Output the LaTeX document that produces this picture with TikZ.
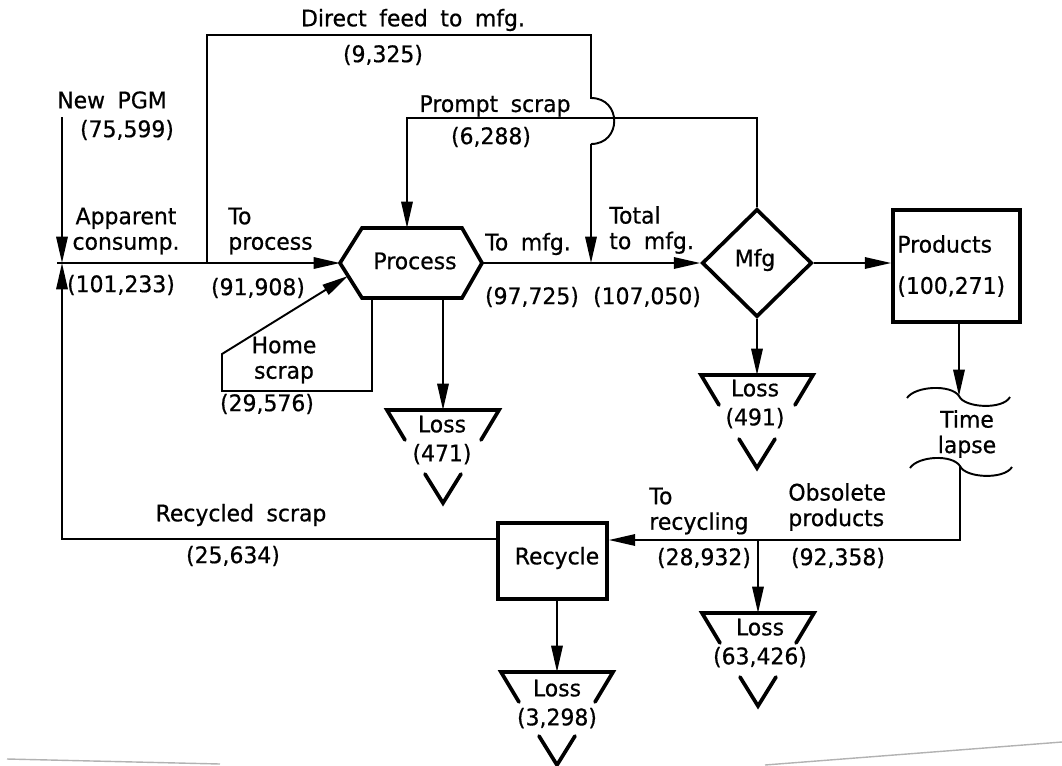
\documentclass[tikz,border=0pt]{standalone}
\usepackage{fontspec}
\setmainfont[FakeStretch=0.96,WordSpace=1.8,FakeBold=0.6]{DejaVu Sans}
\usetikzlibrary{arrows.meta,shapes.geometric}
\begin{document}
\begin{tikzpicture}[x=0.02cm,y=-0.02cm,
  conn/.style={line width=1.1pt},
  arr/.style={conn,-{Triangle[length=15pt,width=6.5pt]}},
  shp/.style={line width=2.1pt},
  lbl/.style={font=\fontsize{13}{14.5}\selectfont,inner sep=0pt},
  losstri/.pic={
    \draw[shp,line cap=round,line join=miter] (-38,30) -- (-56,0) -- (56,0) -- (38,30);
    \draw[shp,line cap=round] (-18,64) -- (0,93) -- (18,64);
  }]
\useasboundingbox (0,0) rectangle (1062,765);

% ---- shapes ----
\coordinate (pW) at (340,263);
\coordinate (pE) at (482,263);
\draw[shp,line join=miter] (pW) -- (362,228) -- (462,228) -- (pE) -- (462,298) -- (362,298) -- cycle;
\node[lbl] (proc) at (415,261) {Process};

\node[shp,draw,diamond,minimum width=2.2cm,minimum height=2.16cm,inner sep=0pt,lbl] (mfg) at (757,263) {};
\node[lbl] (mfgtxt) at (755,260) {Mfg};

\node[shp,draw,rectangle,minimum width=2.54cm,minimum height=2.24cm] (prod) at (956.5,266) {};
\node[lbl,anchor=west,align=left] (prodtxt) at (897,266) {Products\\[9pt](100,271)};

\node[shp,draw,rectangle,minimum width=2.18cm,minimum height=1.52cm] (recyc) at (552.5,561) {};
\node[lbl] (recyctxt) at (557,558) {Recycle};

% ---- coordinates ----
\coordinate (junc) at (62,263);
\coordinate (newtop) at (62,117);
\coordinate (mainstart) at (57,263);
\coordinate (dfb) at (207,263);
\coordinate (dfe) at (591,263);
\coordinate (tl1) at (959,396);
\coordinate (tl2) at (960,466);
\coordinate (obsR) at (960,540);
\coordinate (obsB) at (758,540);
\coordinate (rs) at (62,539);
\coordinate (hs0) at (372,298);
\coordinate (hsT) at (348,276);
\coordinate (plstart) at (443,298);
\coordinate (pl) at (443,410);
\coordinate (ml) at (757,375);
\coordinate (ol) at (758,613);
\coordinate (rl) at (557,672);

% ---- connectors ----
\draw[arr] (newtop) -- (junc);
\draw[arr] (mainstart) -- (pW);
\draw[conn] (dfb) -- (207,35) -- (591,35) -- (591,98) .. controls (622,98) and (622,144) .. (591,144) coordinate (jb);
\draw[arr] (jb) -- (dfe);
\draw[arr] (mfg.north) -- (757,118) -- (407,118) -- (407,228);
\draw[arr] (pE) -- (mfg.west);
\draw[arr] (mfg.east) -- (mfg.east -| prod.west);
\draw[arr] (prod.south -| tl1) -- (tl1);
\draw[conn] (907,398) .. controls (915,386) and (951,384) .. (959,396) .. controls (964,408) and (1003,410) .. (1010,397);
\draw[conn] (910,468) .. controls (918,456) and (952,454) .. (tl2) .. controls (965,478) and (1004,480) .. (1012,467);
\draw[arr] (tl2) -- (obsR) -- (recyc.east |- obsR);
\draw[arr] (obsB) -- (ol);
\draw[arr] (recyc.south -| rl) -- (rl);
\draw[arr] (recyc.west |- rs) -- (rs) -- (junc);
\draw[arr] (hs0) -- (372,391) -- (222,391) -- (222,354) -- (hsT);
\draw[arr] (plstart) -- (pl);
\draw[arr] (mfg.south) -- (ml);

% ---- loss symbols ----
\pic at (pl) {losstri};
\pic at (ml) {losstri};
\pic at (ol) {losstri};
\pic at (rl) {losstri};

% ---- labels ----
\node[lbl] (t1) at (413,20) {Direct feed to mfg.};
\node[lbl] (t2) at (383,55) {(9,325)};
\node[lbl] (t3) at (112,100) {New PGM};
\node[lbl] (t4) at (127,130) {(75,599)};
\node[lbl,align=center] (t5) at (126,231) {Apparent\\consump.};
\node[lbl] (t6) at (121,285) {(101,233)};
\node[lbl,anchor=west,align=left] (t7) at (228,231) {To\\process};
\node[lbl] (t8) at (258,288) {(91,908)};
\node[lbl] (t9) at (495,106) {Prompt scrap};
\node[lbl] (t10) at (491,137) {(6,288)};
\node[lbl] (t12) at (528,244) {To mfg.};
\node[lbl,anchor=west,align=left] (t13) at (609,230) {Total\\to mfg.};
\node[lbl] (t14) at (532,297) {(97,725)};
\node[lbl] (t15) at (647,297) {(107,050)};
\node[lbl,align=center] (t18) at (284,360) {Home\\scrap};
\node[lbl] (t19) at (267,404) {(29,576)};
\node[lbl,align=center] (t20) at (442,440) {Loss\\[2pt](471)};
\node[lbl,align=center] (t21) at (755,404) {Loss\\[2pt](491)};
\node[lbl,align=center] (t22) at (967,434) {Time\\lapse};
\node[lbl,anchor=west,align=left] (t23) at (788,507) {Obsolete\\products};
\node[lbl,anchor=west,align=left] (t24) at (649,511) {To\\recycling};
\node[lbl] (t25) at (704,558) {(28,932)};
\node[lbl] (t26) at (838,558) {(92,358)};
\node[lbl,align=center] (t27) at (760,643) {Loss\\[2pt](63,426)};
\node[lbl,align=center] (t29) at (557,704) {Loss\\[2pt](3,298)};
\node[lbl] (t30) at (241,515) {Recycled scrap};
\node[lbl] (t31) at (233,556) {(25,634)};

% ---- scan edge lines ----
\draw[gray!60,line width=0.8pt] (7,759) -- (220,764);
\draw[gray!60,line width=0.8pt] (765,765) -- (1062,742);
\end{tikzpicture}
\end{document}
